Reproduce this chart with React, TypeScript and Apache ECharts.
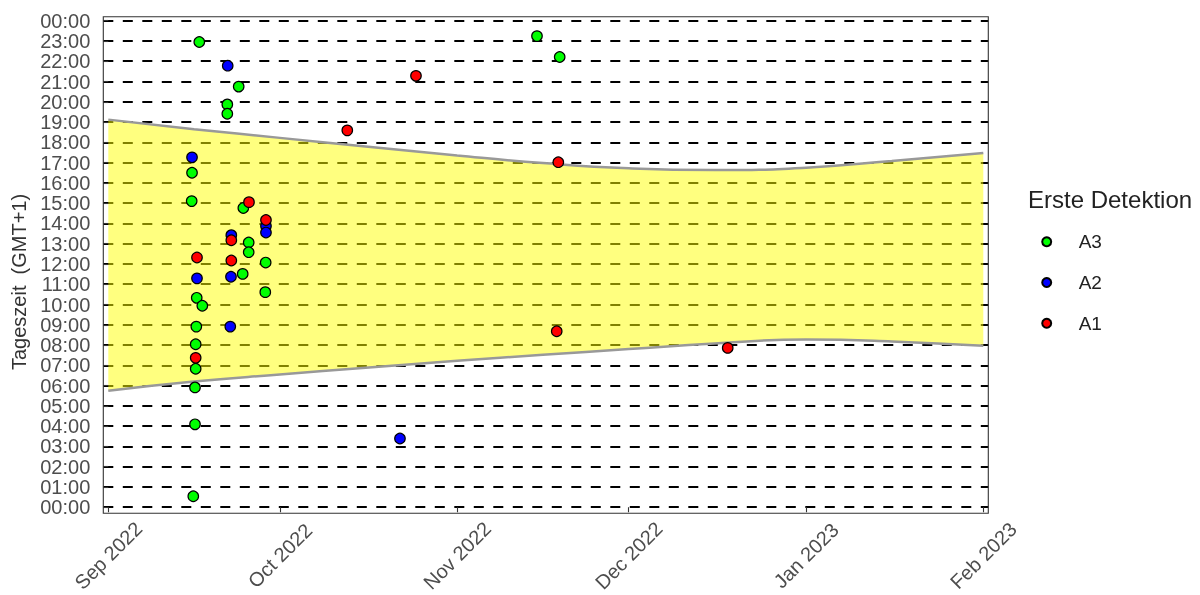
import React, { useEffect, useRef } from "react";
import * as echarts from "echarts";

// x values are days since 2022-09-01, y values are hours of the day (GMT+1)
const START_DATE = "2022-09-01T00:00:00Z";
const monthTickDays = [0, 30, 61, 91, 122, 153];
const monthLabels = ["Sep 2022", "Oct 2022", "Nov 2022", "Dec 2022", "Jan 2023", "Feb 2023"];

const bandDays = [0, 15, 30, 45, 61, 76, 91, 106, 122, 137, 153];
const sunriseHours = [5.75, 6.2, 6.55, 6.88, 7.22, 7.52, 7.8, 8.08, 8.27, 8.18, 7.96];
const sunsetHours = [19.12, 18.65, 18.22, 17.8, 17.35, 16.98, 16.72, 16.63, 16.75, 17.08, 17.47];

const pointsA3 = [
  [15.91, 22.95], [20.81, 19.87], [20.81, 19.41], [22.8, 20.75], [14.64, 16.5],
  [14.58, 15.1], [23.61, 14.76], [24.55, 13.06], [24.55, 12.58], [27.52, 12.07],
  [23.5, 11.51], [27.45, 10.61], [15.46, 10.33], [16.44, 9.94], [15.39, 8.91],
  [15.28, 8.04], [15.28, 6.83], [15.16, 5.91], [15.16, 4.09], [14.86, 0.54],
  [74.96, 23.24], [78.93, 22.21],
];
const pointsA2 = [
  [20.88, 21.78], [14.64, 17.26], [21.51, 13.42], [21.45, 11.37], [15.51, 11.29],
  [21.33, 8.91], [27.57, 13.87], [27.57, 13.55], [51.0, 3.39],
];
const pointsA1 = [
  [15.28, 7.37], [15.51, 12.32], [21.51, 13.17], [21.51, 12.17], [24.6, 15.05],
  [27.57, 14.17], [41.79, 18.59], [53.8, 21.28], [78.69, 17.02], [78.41, 8.68],
  [108.31, 7.86],
];

const FONT = "'Liberation Sans', Arial, sans-serif";
const DAY = 86400000;
const BASE = Date.parse(START_DATE);
const t = (d: number) => BASE + d * DAY;
const X_MIN = -0.874;
const X_MAX = 153.874;

export default function App() {
  const ref = useRef<HTMLDivElement>(null);
  useEffect(() => {
    if (!ref.current) return;
    const chart = echarts.init(ref.current, null, { renderer: "svg" });
    const pt = (color: string) => ({
      color,
      borderColor: "#000",
      borderWidth: 1.2,
      opacity: 1,
    });
    chart.setOption({
      animation: false,
      textStyle: { fontFamily: FONT },
      grid: { left: 103.3, right: 1200 - 988.3, top: 20.7, bottom: 595 - 509, containLabel: false },
      xAxis: [
        {
          type: "value",
          min: X_MIN,
          max: X_MAX,
          offset: 4.3,
          axisLine: { show: false },
          splitLine: { show: false },
          axisTick: {
            show: true,
            customValues: monthTickDays,
            length: 5,
            lineStyle: { color: "#333", width: 1.1 },
          },
          axisLabel: {
            customValues: monthTickDays,
            formatter: (v: number) => {
              const i = monthTickDays.indexOf(Math.round(v));
              return i >= 0 ? monthLabels[i] : "";
            },
            rotate: 45,
            align: "center",
            verticalAlign: "middle",
            margin: 44,
            fontSize: 20,
            color: "#4d4d4d",
            fontFamily: FONT,
          },
        },
        {
          type: "time",
          show: false,
          min: t(X_MIN),
          max: t(X_MAX),
          position: "bottom",
          splitLine: { show: false },
        },
      ],
      yAxis: {
        type: "value",
        min: 0,
        max: 24,
        interval: 1,
        axisLine: { show: false },
        axisTick: { show: true, length: 4.5, lineStyle: { color: "#333", width: 1.1 } },
        axisLabel: {
          formatter: (v: number) => String(v % 24).padStart(2, "0") + ":00",
          fontSize: 20,
          color: "#4d4d4d",
          margin: 13,
          fontFamily: FONT,
        },
        splitLine: { show: true, lineStyle: { color: "#000", width: 2, type: [10, 9.5] } },
        name: "Tageszeit  (GMT+1)",
        nameLocation: "middle",
        nameGap: 70,
        nameTextStyle: { fontSize: 20, color: "#333", fontFamily: FONT, padding: [0, 36, 0, 0] },
      },
      legend: {
        orient: "vertical",
        left: 1036.2,
        top: 227.3,
        itemWidth: 54,
        itemHeight: 9,
        itemGap: 21.7,
        icon: "circle",
        data: ["A3", "A2", "A1"],
        textStyle: { fontSize: 19, color: "#222", lineHeight: 18, fontFamily: FONT },
      },
      graphic: [
        {
          type: "rect",
          silent: true,
          z: 100,
          shape: { x: 103.3, y: 16.7, width: 885, height: 496.6 },
          style: { fill: "none", stroke: "#333", lineWidth: 1.1 },
        },
        {
          type: "text",
          x: 1028,
          y: 199,
          style: {
            text: "Erste Detektion",
            fontSize: 24,
            fill: "#222",
            fontFamily: FONT,
            verticalAlign: "middle",
          },
        },
      ],
      series: [
        {
          type: "line",
          name: "sunrise",
          xAxisIndex: 1,
          data: bandDays.map((d, i) => [t(d), sunriseHours[i]]),
          stack: "band",
          smooth: 0.5,
          symbol: "none",
          lineStyle: { color: "#999", width: 2.5 },
          z: 3,
          silent: true,
        },
        {
          type: "line",
          name: "daylight",
          xAxisIndex: 1,
          data: bandDays.map((d, i) => [t(d), sunsetHours[i] - sunriseHours[i]]),
          stack: "band",
          smooth: 0.5,
          symbol: "none",
          lineStyle: { color: "#999", width: 2.5 },
          areaStyle: { color: "rgba(255,255,0,0.5)", opacity: 1 },
          z: 2,
          silent: true,
        },
        { type: "scatter", name: "A3", xAxisIndex: 0, data: pointsA3, symbol: "circle", symbolSize: 10.5, itemStyle: pt("#00ff00"), z: 5 },
        { type: "scatter", name: "A2", xAxisIndex: 0, data: pointsA2, symbol: "circle", symbolSize: 10.5, itemStyle: pt("#0000ff"), z: 5 },
        { type: "scatter", name: "A1", xAxisIndex: 0, data: pointsA1, symbol: "circle", symbolSize: 10.5, itemStyle: pt("#ff0000"), z: 5 },
      ],
    });
    return () => chart.dispose();
  }, []);
  return (
    <div
      ref={ref}
      style={{ position: "fixed", left: 0, top: 0, width: 1200, height: 595 }}
    />
  );
}
